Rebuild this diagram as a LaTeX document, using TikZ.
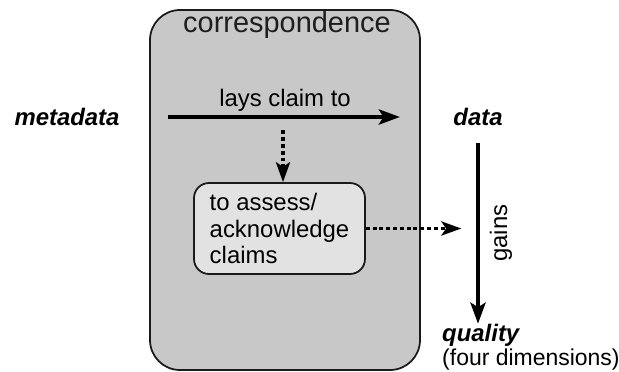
\documentclass[tikz,border=0pt]{standalone}
\usepackage{fontspec}
\setmainfont{Liberation Sans}
\usepackage{tikz}
\usetikzlibrary{
  arrows.meta,
  positioning,
  calc,
}
\definecolor{corrBg}{HTML}{C8C8C8}
\definecolor{assessBg}{HTML}{E2E2E2}
\definecolor{edgeCol}{HTML}{1A1A1A}
\definecolor{titleCol}{HTML}{1E1E1E}
\tikzset{
  corrbox/.style={
    rectangle, rounded corners=0.9cm, draw=edgeCol, line width=1.5pt,
    fill=corrBg, minimum width=8.1cm, minimum height=10.8cm,
  },
  assessbox/.style={
    rectangle, rounded corners=0.45cm, draw=edgeCol, line width=1.5pt,
    fill=assessBg, minimum width=5.13cm, minimum height=2.73cm,
    align=left, font=\fontsize{20.4}{23}\selectfont,
  },
  termtext/.style={
    inner sep=0pt, font=\fontsize{20.4}{23}\selectfont\bfseries\itshape,
  },
  plaintext/.style={
    inner sep=0pt, font=\fontsize{20.4}{23}\selectfont,
  },
  titletext/.style={
    inner sep=0pt, text=titleCol, font=\fontsize{24.7}{28}\selectfont,
  },
  arrowSolid/.style={
    -{Stealth[length=18pt,width=13pt,inset=4pt]}, line width=3pt,
  },
  arrowDot/.style={
    -{Stealth[length=17pt,width=12pt,inset=4pt]}, line width=3pt,
    dash pattern=on 3.4pt off 2.4pt,
  },
}
\begin{document}
\begin{tikzpicture}
\useasboundingbox (0,0) rectangle (18.57,11.13);

\node[corrbox] (corr) at (8.55,5.43) {};
\node[titletext] (title) at (8.61,10.38) {correspondence};

\node[termtext] (meta) at (2.01,7.62) {metadata};
\node[termtext] (data) at (14.34,7.62) {data};
\node[plaintext] (claimLbl) at (8.55,8.13) {lays claim to};

\node[assessbox] (assess) at (8.385,4.275) {%
  to assess/\\acknowledge\\claims%
};

\node[termtext, anchor=north west] (quality) at (13.26,1.42) {quality};
\node[plaintext, font=\fontsize{19.6}{22}\selectfont,
      below=2pt of quality.south west, anchor=north west] (dims) {(four dimensions)};

% Flow arrows
\draw[arrowSolid, shorten <=1.45cm, shorten >=1.6cm] (meta.east) -- (data.west);
\coordinate (claimMid) at (8.49,7.62);
\draw[arrowDot] ([yshift=-0.4cm]claimMid) -- (claimMid |- assess.north);

\coordinate (gainsHit) at ([xshift=-0.5cm]assess.east -| data);
\draw[arrowDot] (assess.east) -- (gainsHit);

\draw[arrowSolid] ([yshift=-0.5cm]data.south) -- (data |- quality.north)
  node[midway, right=0.3cm, rotate=90, anchor=north, plaintext] (gains) {gains};

\end{tikzpicture}
\end{document}
